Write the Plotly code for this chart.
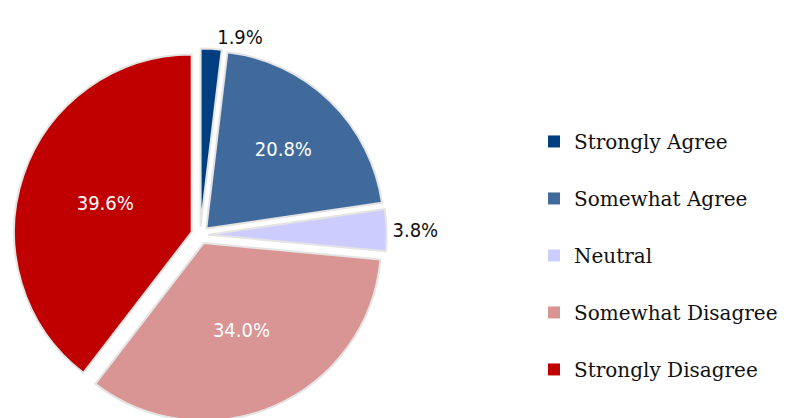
import plotly.graph_objects as go

categories = ["Strongly Agree", "Somewhat Agree", "Neutral", "Somewhat Disagree", "Strongly Disagree"]
values = [1.9, 20.8, 3.8, 34.0, 39.6]
colors = ["#003f7f", "#416a9c", "#ccccff", "#d99594", "#c00000"]
text_pos = ["outside", "inside", "outside", "inside", "inside"]
text_col = ["#111111", "#ffffff", "#111111", "#ffffff", "#ffffff"]

label_font = "DejaVu Sans Condensed, Liberation Sans Narrow, Roboto Condensed, Roboto, sans-serif"

fig = go.Figure()
fig.add_trace(go.Pie(
    labels=categories, values=values, sort=False, direction="clockwise", rotation=0,
    marker=dict(colors=colors, line=dict(color="#e4e4e4", width=2)),
    pull=[0.05] * len(values),
    textinfo="percent", texttemplate="%{percent:.1%}",
    textposition=text_pos,
    insidetextorientation="horizontal",
    textfont=dict(family=label_font, size=20, color=text_col),
    outsidetextfont=dict(family=label_font, size=20, color="#111111"),
    showlegend=False,
    domain=dict(x=[0.007, 0.475], y=[0.008, 0.906]),
))

# legend entries
for c, col in zip(categories, colors):
    fig.add_trace(go.Scatter(
        x=[None], y=[None], mode="markers", name=c, legendgroup=c,
        marker=dict(symbol="square", size=12, color=col),
        showlegend=True, hoverinfo="skip",
    ))

fig.update_layout(
    width=797, height=418,
    margin=dict(l=0, r=0, t=0, b=0, autoexpand=False),
    paper_bgcolor="white", plot_bgcolor="white",
    xaxis=dict(visible=False), yaxis=dict(visible=False),
    legend=dict(x=0.66, y=0.408, xanchor="left", yanchor="middle",
                font=dict(family="DejaVu Serif", size=20, color="#111111"),
                tracegroupgap=28, itemwidth=30, bgcolor="rgba(0,0,0,0)"),
)
fig.write_html("out.html")
